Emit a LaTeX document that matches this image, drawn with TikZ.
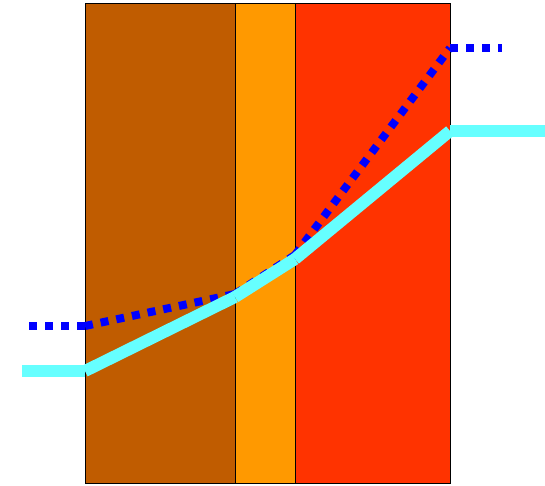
\documentclass[tikz,border=0pt]{standalone}
\definecolor{layerbrown}{RGB}{192,92,0}
\definecolor{layerorange}{RGB}{255,153,0}
\definecolor{layerred}{RGB}{255,51,0}
\definecolor{tempcyan}{RGB}{102,255,255}
\tikzset{
  layer/.style={draw=black, line width=1pt},
  templine/.style={draw=tempcyan, line width=12pt},
  dewline/.style={draw=blue, line width=8pt, dash pattern=on 8pt off 8pt}
}
\begin{document}
\begin{tikzpicture}[x=1pt,y=-1pt]
  \useasboundingbox (0,0) rectangle (545,485);
  % wall layers
  \draw[layer, fill=layerbrown] (85,3) rectangle (235,483);
  \draw[layer, fill=layerorange] (235,3) rectangle (295,483);
  \draw[layer, fill=layerred] (295,3) rectangle (450,483);
  % dew point line
  \foreach \i/\x/\y in {0/29/326, 1/85/326, 2/235/294, 3/295/255, 4/450/48, 5/502/48}
    {\coordinate (d\i) at (\x,\y);}
  \foreach \a/\b in {0/1, 1/2, 2/3, 3/4, 4/5}
    {\draw[dewline] (d\a) -- (d\b);}
  % temperature line
  \foreach \i/\x/\y in {0/22/371, 1/85/371, 2/235/297, 3/295/259, 4/450/131, 5/545/131}
    {\coordinate (t\i) at (\x,\y);}
  \foreach \a/\b in {0/1, 1/2, 2/3, 3/4, 4/5}
    {\draw[templine] (t\a) -- (t\b);}
\end{tikzpicture}
\end{document}
